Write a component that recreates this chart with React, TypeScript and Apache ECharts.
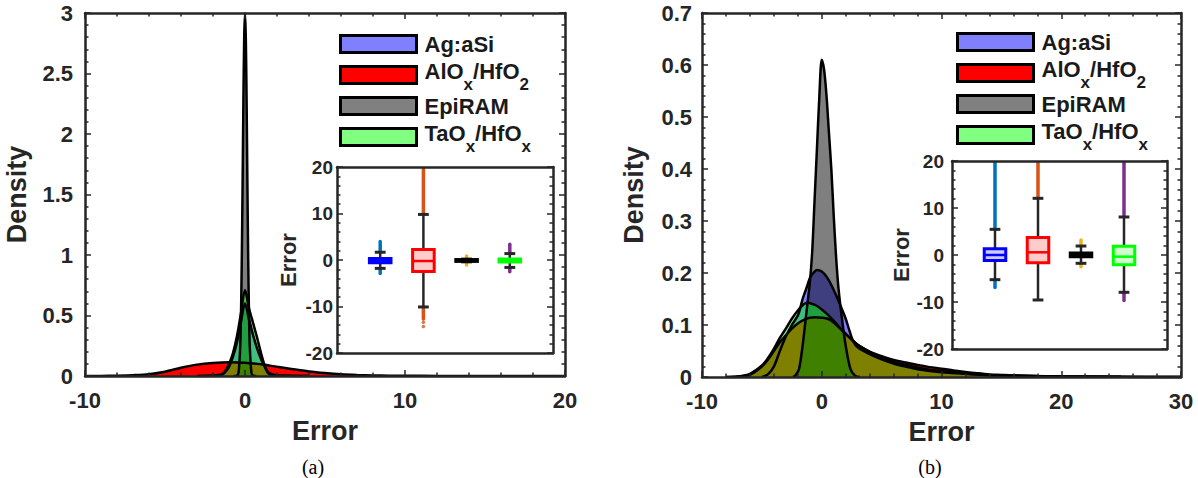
import React, { useEffect, useRef } from 'react';
import * as echarts from 'echarts';

// ---------- legend / series names ----------
const names = ['Ag:aSi', 'AlOx/HfO2', 'EpiRAM', 'TaOx/HfOx'];
const legendRich = ['Ag:aSi', '{m|AlO}{s|x}{m|/HfO}{s|2}', 'EpiRAM', '{m|TaO}{s|x}{m|/HfO}{s|x}'];
const legendColors = ['#8080FF', '#FF0000', '#808080', '#80FF80'];
const areaColors = ['rgba(0,0,255,0.5)', '#FF0000', 'rgba(0,0,0,0.5)', 'rgba(0,255,0,0.5)'];
const legendRowsA = [44, 75, 106, 137];
const legendRowsB = [42, 73, 104, 135];

// ---------- panel (a) densities [error, density] ----------
const agDensA: [number, number][] = [[-3,0],[-2,0.003],[-1.5,0.008],[-1.25,0.03],[-1,0.075],[-0.75,0.16],[-0.5,0.28],[-0.25,0.45],[0,0.6],[0.25,0.47],[0.5,0.34],[0.75,0.23],[1,0.14],[1.25,0.07],[1.5,0.015],[2,0.003],[3,0.001],[4,0]];
const alDensA: [number, number][] = [[-10,0.0005],[-9,0.001],[-8,0.003],[-7,0.007],[-6,0.015],[-5,0.035],[-4,0.068],[-3,0.094],[-2,0.108],[-1,0.114],[0,0.11],[1,0.097],[2,0.076],[3,0.056],[4,0.038],[5,0.025],[6,0.015],[7,0.009],[8,0.005],[9,0.003],[10,0.002],[12,0.001],[15,0.0005],[20,0.0002]];
const epiDensA: [number, number][] = [[-0.7,0],[-0.5,0.003],[-0.4,0.03],[-0.3,0.24],[-0.25,0.51],[-0.2,0.97],[-0.15,1.59],[-0.1,2.27],[-0.05,2.8],[0,3.0],[0.05,2.8],[0.1,2.27],[0.15,1.59],[0.2,0.97],[0.25,0.51],[0.3,0.24],[0.4,0.03],[0.5,0.003],[0.7,0]];
const taDensA: [number, number][] = [[-3,0],[-2,0.004],[-1.5,0.012],[-1.25,0.04],[-1,0.1],[-0.75,0.19],[-0.5,0.33],[-0.25,0.52],[0,0.71],[0.25,0.56],[0.5,0.44],[0.75,0.32],[1,0.19],[1.25,0.08],[1.5,0.025],[2,0.005],[3,0.001],[4,0]];

// ---------- panel (b) densities ----------
const agDensB: [number, number][] = [[-5,0],[-4.5,0.005],[-4,0.02],[-3.5,0.05],[-3,0.078],[-2.5,0.1],[-2,0.118],[-1.8,0.132],[-1.6,0.15],[-1.4,0.163],[-1.2,0.176],[-1,0.19],[-0.7,0.2],[-0.4,0.206],[0,0.203],[0.4,0.193],[0.8,0.177],[1.2,0.157],[1.6,0.135],[2,0.112],[2.3,0.09],[2.6,0.07],[3,0.057],[4,0.044],[5,0.034],[6,0.026],[7,0.02],[8,0.015],[10,0.009],[12,0.006],[15,0.003],[20,0.001],[25,0.0003],[30,0.0001]];
const alDensB: [number, number][] = [[-8,0],[-7,0.001],[-6,0.004],[-5,0.02],[-4.5,0.033],[-4,0.05],[-3.5,0.067],[-3,0.08],[-2.5,0.093],[-2,0.103],[-1.5,0.11],[-1,0.114],[-0.5,0.115],[0,0.114],[0.5,0.112],[1,0.105],[1.5,0.094],[2,0.083],[2.5,0.072],[3,0.062],[4,0.049],[5,0.04],[6,0.033],[7,0.028],[8,0.023],[9,0.019],[10,0.016],[11,0.0125],[12,0.0095],[13,0.007],[14,0.005],[15,0.004],[16,0.003],[18,0.0019],[20,0.0012],[25,0.0004],[30,0.0001]];
const epiDensB: [number, number][] = [[-2.4,0],[-2.2,0.003],[-1.9,0.015],[-1.6,0.06],[-1.4,0.1],[-1.2,0.14],[-1,0.18],[-0.8,0.24],[-0.6,0.34],[-0.4,0.44],[-0.2,0.54],[0,0.61],[0.2,0.59],[0.4,0.54],[0.6,0.47],[0.8,0.4],[1,0.31],[1.2,0.23],[1.4,0.17],[1.7,0.11],[2,0.06],[2.4,0.015],[2.8,0.002],[3.2,0]];
const taDensB: [number, number][] = [[-8,0],[-7,0.001],[-6,0.006],[-5,0.022],[-4.5,0.036],[-4,0.054],[-3.5,0.075],[-3,0.093],[-2.5,0.112],[-2,0.128],[-1.5,0.14],[-1.2,0.143],[-1,0.142],[-0.5,0.138],[0,0.13],[0.5,0.12],[1,0.108],[1.5,0.095],[2,0.083],[2.5,0.072],[3,0.062],[4,0.048],[5,0.037],[6,0.029],[7,0.023],[8,0.018],[9,0.014],[10,0.011],[11,0.009],[12,0.007],[13,0.005],[14,0.0035],[16,0.0025],[18,0.0015],[20,0.001],[25,0.0003],[30,0.0001]];

// ---------- inset box plots ----------
const boxCats = [1, 2, 3, 4];
// panel (a)
const q1A = [-0.6, -2.45, -0.3, -0.45];
const medA = [-0.15, -0.22, -0.1, -0.1];
const q3A = [0.3, 2.25, 0.1, 0.22];
const whLoA = [-1.8, -10.1, -0.4, -1.6];
const whHiA = [1.67, 9.8, 0.2, 1.38];
const outLoA = [-2.9, -12.7, -1.09, -2.54];
const outHiA = [4.0, 20, 0.87, 3.4];
const alOutDotsA = [-13.4, -14.3];
// panel (b)
const q1B = [-1.15, -1.65, -0.35, -2.05];
const medB = [0.0, 0.57, 0.05, -0.35];
const q3B = [1.35, 3.7, 0.45, 1.85];
const whLoB = [-5.25, -9.57, -1.77, -7.94];
const whHiB = [5.46, 12.06, 1.91, 8.09];
const outLoB = [-6.9, -9.57, -2.5, -9.7];
const outHiB = [20, 20, 3.2, 20];

const boxEdge = ['#0000FF', '#FF0000', '#000000', '#00FF00'];
const boxFill = ['#CCCCFF', '#FFCCCC', '#404040', '#CCFFCC'];
const outColors = ['#0072BD', '#D95319', '#EDB120', '#7E2F8E'];

// ---------- styles ----------
const AX = '#262626';
const FONT = 'Liberation Sans';

function valAxis(o: any) {
  return {
    type: 'value',
    gridIndex: o.grid,
    position: o.pos,
    min: o.min,
    max: o.max,
    interval: o.interval,
    z: 10,
    silent: true,
    axisLine: { show: true, onZero: false, lineStyle: { color: AX, width: 2.5 } },
    axisTick: { show: o.ticks !== false, inside: true, length: 6, lineStyle: { color: AX, width: 1.5 } },
    minorTick: { show: o.ticks !== false, splitNumber: 5, length: 3.5, lineStyle: { color: AX, width: 1.5 } },
    splitLine: { show: false },
    axisLabel: o.labels
      ? { fontFamily: FONT, fontWeight: 'bold', fontSize: o.labelSize || 22, color: AX, margin: o.margin }
      : { show: false },
    name: o.name,
    nameLocation: 'middle',
    nameGap: o.nameGap,
    nameTextStyle: { fontFamily: FONT, fontWeight: 'bold', fontSize: o.nameSize || 27, color: AX },
  };
}

function densitySeries(dens: [number, number][][], xi: number) {
  return [0, 1, 2, 3].map((k) => ({
    type: 'line',
    name: names[k],
    xAxisIndex: xi,
    yAxisIndex: xi,
    data: dens[k],
    showSymbol: false,
    symbol: 'none',
    smooth: 0.3,
    silent: true,
    color: legendColors[k],
    lineStyle: { color: '#000', width: 2.5 },
    areaStyle: { color: areaColors[k], opacity: 1 },
  }));
}

function boxRender(params: any, api: any) {
  const c = api.value(0);
  const i = c - 1;
  const v = [1, 2, 3, 4, 5, 6, 7].map((k) => api.value(k));
  const [q1, med, q3, wlo, whi, olo, ohi] = v;
  const p = (x: number, y: number) => api.coord([x, y]);
  const hw = 0.25;
  const cw = 0.125;
  const line = (a: number[], b: number[], color: string, w: number, cap = 'butt') => ({
    type: 'line',
    shape: { x1: a[0], y1: a[1], x2: b[0], y2: b[1] },
    style: { stroke: color, lineWidth: w, lineCap: cap },
  });
  const children: any[] = [];
  if (olo < wlo) children.push(line(p(c, wlo), p(c, olo), outColors[i], 3.5, 'round'));
  if (ohi > whi) children.push(line(p(c, whi), p(c, ohi), outColors[i], 3.5, ohi >= 20 ? 'butt' : 'round'));
  children.push(line(p(c, q3), p(c, whi), AX, 2.5));
  children.push(line(p(c, q1), p(c, wlo), AX, 2.5));
  children.push(line(p(c - cw, whi), p(c + cw, whi), AX, 3));
  children.push(line(p(c - cw, wlo), p(c + cw, wlo), AX, 3));
  const tl = p(c - hw, q3);
  const br = p(c + hw, q1);
  children.push({
    type: 'rect',
    shape: { x: tl[0], y: tl[1], width: br[0] - tl[0], height: br[1] - tl[1] },
    style: { fill: boxFill[i], stroke: boxEdge[i], lineWidth: 3 },
  });
  children.push(line(p(c - hw, med), p(c + hw, med), boxEdge[i], 2.5));
  return { type: 'group', children };
}

function boxRows(q1: number[], med: number[], q3: number[], wl: number[], wh: number[], ol: number[], oh: number[]) {
  return boxCats.map((c, i) => [c, q1[i], med[i], q3[i], wl[i], wh[i], ol[i], oh[i]]);
}

// one legend component per entry, so that rows keep an even pitch
function legendItem(i: number, left: number, center: number) {
  const rich = legendRich[i].indexOf('{') >= 0;
  return {
    orient: 'vertical',
    left,
    top: center - (rich ? 15 : 11),
    padding: 0,
    itemWidth: 76,
    itemHeight: 17,
    selectedMode: false,
    data: [
      {
        name: names[i],
        icon: 'rect',
        itemStyle: { color: legendColors[i], borderColor: '#000', borderWidth: 3 },
      },
    ],
    formatter: () => legendRich[i],
    textStyle: {
      fontFamily: FONT,
      fontWeight: 'bold',
      fontSize: 22,
      color: '#1a1a1a',
      padding: rich ? [0, 0, 6, 3] : [0, 0, 0, 3],
      rich: {
        m: { fontFamily: FONT, fontWeight: 'bold', fontSize: 22, lineHeight: 24, color: '#1a1a1a', verticalAlign: 'top' },
        s: { fontFamily: FONT, fontWeight: 'bold', fontSize: 17, lineHeight: 17, color: '#1a1a1a', padding: [16, 0, 0, 0], verticalAlign: 'top' },
      },
    },
  };
}

function buildOption() {
  const gridA = { left: 85, top: 13, width: 480, height: 363 };
  const insetA = { left: 337, top: 167, width: 216, height: 186, show: true, backgroundColor: '#fff', borderWidth: 0 };
  const gridB = { left: 702, top: 13, width: 479, height: 364 };
  const insetB = { left: 952, top: 161, width: 215, height: 188, show: true, backgroundColor: '#fff', borderWidth: 0 };

  const xAxis = [
    valAxis({ grid: 0, pos: 'bottom', min: -10, max: 20, interval: 10, labels: true, margin: 13, name: 'Error', nameGap: 41 }),
    valAxis({ grid: 0, pos: 'top', min: -10, max: 20, interval: 10 }),
    valAxis({ grid: 1, pos: 'bottom', min: 0, max: 5, interval: 1, ticks: false }),
    valAxis({ grid: 1, pos: 'top', min: 0, max: 5, interval: 1, ticks: false }),
    valAxis({ grid: 2, pos: 'bottom', min: -10, max: 30, interval: 10, labels: true, margin: 13, name: 'Error', nameGap: 41 }),
    valAxis({ grid: 2, pos: 'top', min: -10, max: 30, interval: 10 }),
    valAxis({ grid: 3, pos: 'bottom', min: 0, max: 5, interval: 1, ticks: false }),
    valAxis({ grid: 3, pos: 'top', min: 0, max: 5, interval: 1, ticks: false }),
  ];
  const yAxis = [
    valAxis({ grid: 0, pos: 'left', min: 0, max: 3, interval: 0.5, labels: true, margin: 12, name: 'Density', nameGap: 55 }),
    valAxis({ grid: 0, pos: 'right', min: 0, max: 3, interval: 0.5 }),
    valAxis({ grid: 1, pos: 'left', min: -20, max: 20, interval: 10, labels: true, labelSize: 19, margin: 4, name: 'Error', nameGap: 38, nameSize: 22 }),
    valAxis({ grid: 1, pos: 'right', min: -20, max: 20, interval: 10 }),
    valAxis({ grid: 2, pos: 'left', min: 0, max: 0.7, interval: 0.1, labels: true, margin: 10, name: 'Density', nameGap: 55 }),
    valAxis({ grid: 2, pos: 'right', min: 0, max: 0.7, interval: 0.1 }),
    valAxis({ grid: 3, pos: 'left', min: -20, max: 20, interval: 10, labels: true, labelSize: 19, margin: 8, name: 'Error', nameGap: 39, nameSize: 22 }),
    valAxis({ grid: 3, pos: 'right', min: -20, max: 20, interval: 10 }),
  ];

  const series: any[] = [
    ...densitySeries([agDensA, alDensA, epiDensA, taDensA], 0),
    ...densitySeries([agDensB, alDensB, epiDensB, taDensB], 4),
    {
      type: 'custom',
      xAxisIndex: 2,
      yAxisIndex: 2,
      renderItem: boxRender,
      encode: { x: 0, y: [1, 2, 3, 4, 5, 6, 7] },
      data: boxRows(q1A, medA, q3A, whLoA, whHiA, outLoA, outHiA),
      silent: true,
      z: 3,
    },
    {
      type: 'scatter',
      xAxisIndex: 2,
      yAxisIndex: 2,
      data: alOutDotsA.map((v) => [2, v]),
      symbol: 'circle',
      symbolSize: 3.5,
      itemStyle: { color: outColors[1] },
      silent: true,
      z: 3,
    },
    {
      type: 'custom',
      xAxisIndex: 6,
      yAxisIndex: 6,
      renderItem: boxRender,
      encode: { x: 0, y: [1, 2, 3, 4, 5, 6, 7] },
      data: boxRows(q1B, medB, q3B, whLoB, whHiB, outLoB, outHiB),
      silent: true,
      z: 3,
    },
  ];

  const legend = [
    ...[0, 1, 2, 3].map((i) => legendItem(i, 339, legendRowsA[i])),
    ...[0, 1, 2, 3].map((i) => legendItem(i, 956, legendRowsB[i])),
  ];

  const caption = (text: string, x: number) => ({
    type: 'text',
    x,
    y: 467,
    style: {
      text,
      fontFamily: 'Liberation Serif',
      fontSize: 20,
      fill: '#000',
      align: 'center',
      verticalAlign: 'middle',
      textAlign: 'center',
      textVerticalAlign: 'middle',
    },
  });

  return {
    animation: false,
    backgroundColor: '#fff',
    grid: [gridA, insetA, gridB, insetB],
    xAxis,
    yAxis,
    legend,
    series,
    graphic: [caption('(a)', 313), caption('(b)', 930)],
  };
}

export default function App() {
  const ref = useRef<HTMLDivElement>(null);
  useEffect(() => {
    if (!ref.current) return;
    const chart = echarts.init(ref.current, null, { renderer: 'svg' });
    chart.setOption(buildOption() as any);
    return () => chart.dispose();
  }, []);
  return (
    <div
      ref={ref}
      style={{ position: 'absolute', left: 0, top: 0, width: 1198, height: 478, background: '#fff' }}
    />
  );
}
